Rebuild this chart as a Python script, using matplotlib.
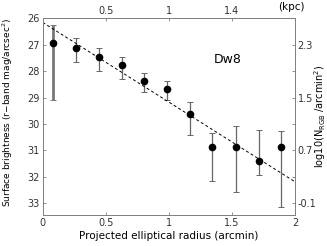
import matplotlib
matplotlib.use("Agg")
import matplotlib.pyplot as plt
import numpy as np

# projected elliptical radius (arcmin) and surface brightness (mag/arcsec^2)
radius = [0.084, 0.264, 0.446, 0.631, 0.805, 0.989, 1.168, 1.346, 1.532, 1.712, 1.893]
mu = [26.94, 27.11, 27.45, 27.77, 28.37, 28.68, 29.62, 30.89, 30.89, 31.41, 30.89]
mu_bright = [26.25, 26.75, 27.11, 27.45, 28.08, 28.37, 29.15, 30.33, 30.06, 30.22, 30.25]
mu_faint = [29.09, 27.64, 27.98, 28.29, 28.77, 29.09, 30.41, 32.18, 32.56, 31.95, 33.15]

# exponential fit (linear in mag)
fit_mu0 = 26.15
fit_slope = 3.02

# top axis (kpc) and right axis (log10 N_RGB)
kpc_pos = [0.5, 1.0, 1.5]
kpc_labels = ["0.5", "1", "1.4"]
log_ticks = [-0.1, 0.3, 0.7, 1.1, 1.5, 1.9, 2.3]
log_labels = ["-0.1", "", "0.7", "", "1.5", "", "2.3"]
log_zero = 13.1

spine_col = "#808080"
text_col = "#333333"

plt.rcParams["font.family"] = "DejaVu Sans"
plt.rcParams["font.size"] = 7

fig = plt.figure(figsize=(3.27, 2.46), dpi=100)
ax = fig.add_axes([0.1306, 0.126, 0.7714, 0.799])

lo = np.array(mu) - np.array(mu_bright)
hi = np.array(mu_faint) - np.array(mu)
ax.errorbar(radius[1:], mu[1:], yerr=[lo[1:], hi[1:]], fmt="none",
            ecolor="#666666", elinewidth=0.9, capsize=2.5, capthick=0.7)
ax.errorbar(radius[:1], mu[:1], yerr=[lo[:1], hi[:1]], fmt="none",
            ecolor="#777777", elinewidth=2.0, capsize=2.5, capthick=0.7)
ax.plot(radius, mu, "o", color="black", markersize=4.5, zorder=5)

xx = np.array([0.0, 2.0])
ax.plot(xx, fit_mu0 + fit_slope * xx, color="black", linestyle=(0, (3, 2.5)),
        linewidth=0.7)

ax.text(1.47, 27.57, "Dw8", fontsize=9, ha="center", va="center")

ax.set_xlim(0, 2)
ax.set_ylim(33.45, 26)
ax.set_xticks([0, 0.5, 1, 1.5, 2])
ax.set_xticklabels(["0", "0.5", "1", "1.5", "2"])
ax.set_yticks(range(26, 34))
ax.set_xlabel("Projected elliptical radius (arcmin)", fontsize=7.5, labelpad=2)
ax.set_ylabel("Surface brightness (r\u2212band mag/arcsec$^2$)", fontsize=6.5)
ax.yaxis.set_label_coords(-0.11, 0.52)

axr = ax.twinx()
y0, y1 = ax.get_ylim()
axr.set_ylim(log_zero - 0.4 * y0, log_zero - 0.4 * y1)
axr.set_yticks(log_ticks)
axr.set_yticklabels(log_labels)
axr.set_ylabel("log10(N$_{\\rm RGB}$ /arcmin$^2$)", fontsize=7)
axr.yaxis.set_label_coords(1.07, 0.5)

axt = ax.twiny()
axt.set_xlim(ax.get_xlim())
axt.set_xticks(kpc_pos)
axt.set_xticklabels(kpc_labels)
axt.text(0.987, 1.035, "(kpc)", transform=ax.transAxes, ha="center",
         va="bottom", fontsize=7.5)

for a in (ax, axr, axt):
    for s in a.spines.values():
        s.set_color(spine_col)
        s.set_linewidth(0.7)
    a.tick_params(direction="in", length=2.5, width=0.6, color=spine_col,
                  labelcolor=text_col, pad=2, labelsize=7)

fig.savefig("out.png", dpi=100)
